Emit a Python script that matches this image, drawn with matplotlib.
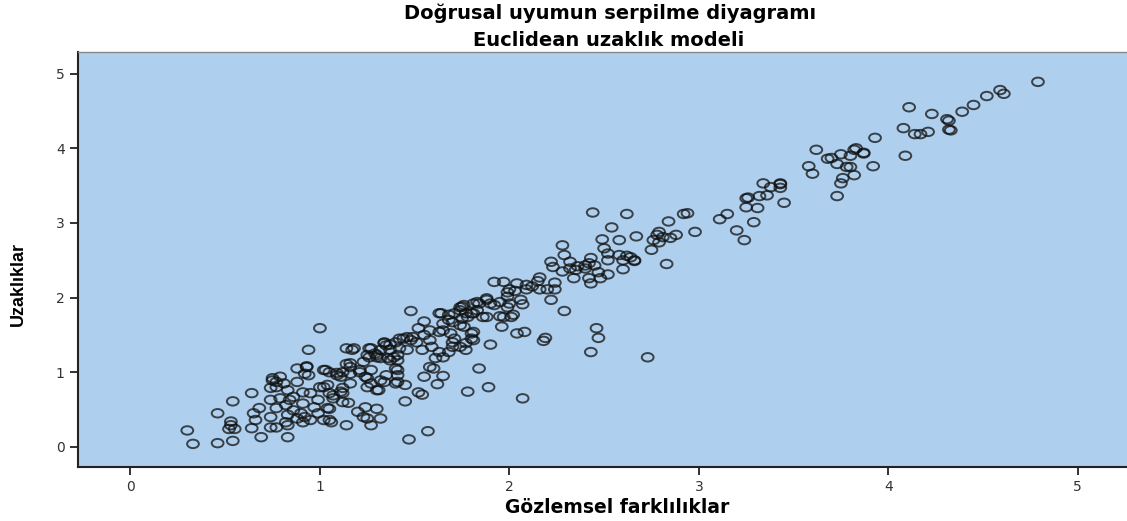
import matplotlib
matplotlib.use("Agg")
import matplotlib.pyplot as plt
import numpy as np
from matplotlib.path import Path

# Gözlemsel farklılıklar (x) ve Uzaklıklar (y)
points = [
    (4.79, 4.89), (4.59, 4.78), (4.61, 4.73), (4.52, 4.70), (4.45, 4.58), (4.39, 4.49),
    (4.31, 4.39), (4.32, 4.37), (4.32, 4.25), (4.33, 4.24), (4.23, 4.46), (4.11, 4.55),
    (4.08, 4.27), (4.14, 4.19), (4.17, 4.19), (4.21, 4.22), (4.09, 3.90), (3.93, 4.14),
    (3.83, 4.00), (3.82, 3.98), (3.87, 3.94), (3.80, 3.90), (3.92, 3.76), (3.80, 3.75),
    (3.82, 3.64), (3.62, 3.98), (3.58, 3.76), (3.60, 3.66), (3.68, 3.86), (3.70, 3.87),
    (3.75, 3.92), (3.87, 3.93), (3.73, 3.79), (3.78, 3.75), (3.76, 3.60), (3.75, 3.53),
    (3.73, 3.36), (3.34, 3.53), (3.38, 3.48), (3.43, 3.53), (3.43, 3.52), (3.43, 3.47),
    (3.36, 3.37), (3.32, 3.36), (3.25, 3.33), (3.26, 3.34), (3.25, 3.21), (3.31, 3.20),
    (3.45, 3.27), (3.29, 3.01), (3.11, 3.05), (3.15, 3.12), (3.20, 2.90), (3.24, 2.77),
    (2.92, 3.12), (2.94, 3.13), (2.84, 3.02), (2.98, 2.88), (2.67, 2.82), (2.79, 2.88),
    (2.78, 2.84), (2.81, 2.81), (2.88, 2.84), (2.76, 2.77), (2.79, 2.74), (2.85, 2.80),
    (2.75, 2.64), (2.83, 2.45), (2.66, 2.50), (2.64, 2.54), (2.44, 3.14), (2.62, 3.12),
    (2.54, 2.94), (2.49, 2.78), (2.58, 2.77), (2.50, 2.66), (2.52, 2.59), (2.58, 2.57),
    (2.62, 2.56), (2.52, 2.50), (2.60, 2.50), (2.66, 2.49), (2.60, 2.38), (2.43, 2.53),
    (2.42, 2.46), (2.45, 2.43), (2.40, 2.43), (2.47, 2.34), (2.42, 2.26), (2.43, 2.19),
    (2.48, 2.26), (2.52, 2.31), (2.28, 2.70), (2.29, 2.57), (2.22, 2.48), (2.23, 2.41),
    (2.32, 2.48), (2.32, 2.39), (2.36, 2.42), (2.28, 2.35), (2.35, 2.37), (2.34, 2.26),
    (2.40, 2.39), (2.16, 2.27), (2.15, 2.22), (2.24, 2.20), (2.16, 2.11), (2.20, 2.11),
    (2.24, 2.11), (2.12, 2.15), (2.09, 2.11), (1.92, 2.21), (1.97, 2.21), (2.04, 2.19),
    (2.00, 2.11), (1.99, 2.07), (2.03, 2.09), (2.22, 1.97), (2.29, 1.82), (2.06, 1.97),
    (2.00, 1.92), (1.95, 1.94), (1.88, 1.97), (1.83, 1.94), (1.76, 1.90), (1.92, 1.90),
    (1.99, 1.87), (2.07, 1.91), (1.74, 1.83), (1.80, 1.79), (1.86, 1.74), (1.95, 1.75),
    (2.01, 1.74), (1.96, 1.61), (2.04, 1.52), (2.08, 1.54), (1.80, 1.52), (1.76, 1.61),
    (2.19, 1.46), (2.46, 1.59), (2.47, 1.46), (2.18, 1.42), (2.43, 1.27), (2.73, 1.20),
    (1.90, 1.37), (1.84, 1.05), (1.89, 0.80), (1.78, 0.74), (2.07, 0.65), (1.57, 0.21),
    (1.47, 0.10), (1.45, 0.61), (1.52, 0.73), (1.54, 0.70), (1.62, 0.84), (1.65, 0.95),
    (1.55, 0.94), (1.58, 1.07), (1.60, 1.05), (1.77, 1.30), (1.80, 1.45), (1.81, 1.54),
    (1.65, 1.56), (1.70, 1.40), (1.68, 1.27), (1.65, 1.20), (1.61, 1.19), (1.74, 1.34),
    (1.77, 1.39), (1.48, 1.82), (1.55, 1.68), (1.52, 1.59), (1.63, 1.79), (1.68, 1.77),
    (1.75, 1.88), (1.81, 1.92), (1.77, 1.79), (1.81, 1.79), (1.65, 1.65), (1.70, 1.67),
    (1.74, 1.63), (1.81, 1.43), (1.70, 1.34), (1.63, 1.27), (1.59, 1.34), (1.54, 1.30),
    (1.58, 1.43), (1.55, 1.50), (1.49, 1.47), (1.46, 1.47), (1.44, 1.45), (1.48, 1.43),
    (1.51, 1.40), (1.40, 1.40), (1.34, 1.40), (1.35, 1.36), (1.32, 1.30), (1.37, 1.30),
    (1.42, 1.32), (1.46, 1.30), (1.27, 1.32), (1.29, 1.25), (1.26, 1.20), (1.30, 1.20),
    (1.36, 1.19), (1.41, 1.16), (1.17, 1.30), (1.18, 1.32), (1.16, 1.07), (1.21, 1.03),
    (1.27, 1.03), (1.03, 1.03), (1.05, 1.00), (0.93, 1.07), (0.92, 0.98), (1.11, 0.94),
    (1.24, 0.94), (1.27, 0.85), (1.32, 0.89), (1.35, 0.96), (1.41, 1.03), (1.45, 0.83),
    (1.31, 0.76), (1.41, 0.96), (1.12, 0.79), (1.00, 0.80), (1.04, 0.83), (1.40, 0.85),
    (1.25, 0.80), (1.16, 0.85), (1.12, 0.72), (1.07, 0.69), (1.15, 0.59), (1.05, 0.51),
    (1.20, 0.47), (1.24, 0.53), (1.30, 0.51), (1.23, 0.40), (1.25, 0.38), (1.32, 0.38),
    (1.27, 0.29), (1.14, 0.29), (1.06, 0.33), (0.94, 1.30), (0.30, 0.22), (0.33, 0.04),
    (0.46, 0.05), (0.54, 0.08), (0.46, 0.45), (0.54, 0.61), (0.64, 0.72), (0.53, 0.34),
    (0.53, 0.29), (0.52, 0.24), (0.55, 0.24), (0.65, 0.45), (0.66, 0.36), (0.64, 0.25),
    (0.69, 0.13), (0.68, 0.52), (0.75, 0.89), (0.77, 0.87), (0.74, 0.79), (0.83, 0.13),
    (0.83, 0.29), (0.74, 0.40), (0.77, 0.26), (0.88, 1.05), (0.93, 1.08), (0.94, 0.96),
    (1.02, 1.03), (1.09, 0.99), (1.14, 1.11), (1.14, 1.32), (0.95, 0.72), (1.02, 0.80),
    (1.04, 0.52), (1.02, 0.36), (1.05, 0.36), (1.12, 0.60), (1.11, 0.74), (0.88, 0.87),
    (0.83, 0.76), (0.86, 0.67), (0.79, 0.65), (0.74, 0.63), (0.77, 0.52), (0.82, 0.56),
    (0.86, 0.49), (0.90, 0.45), (0.83, 0.43), (0.88, 0.38), (0.92, 0.40), (0.95, 0.36),
    (0.91, 0.33), (0.82, 0.33), (0.74, 0.26), (0.99, 0.45), (0.97, 0.53), (0.91, 0.58),
    (0.99, 0.63), (1.05, 0.72), (1.07, 0.65), (0.77, 0.80), (0.81, 0.85), (0.84, 0.63),
    (0.91, 0.73), (0.75, 0.92), (0.79, 0.94), (1.00, 1.59), (1.26, 1.32), (1.34, 1.39),
    (1.37, 1.37), (1.30, 1.23), (1.25, 1.23), (1.32, 1.19), (1.23, 1.14), (1.16, 1.12),
    (1.12, 1.00), (1.09, 0.96), (1.16, 0.98), (1.21, 1.00), (1.25, 0.92), (1.30, 0.76),
    (1.34, 0.87), (1.40, 1.05), (1.41, 0.87), (1.37, 1.16), (1.41, 1.23), (2.09, 2.17),
    (1.99, 2.01), (1.90, 1.92), (1.84, 1.92), (1.88, 1.99), (1.83, 1.83), (1.88, 1.74),
    (1.97, 1.74), (2.02, 1.77), (1.74, 1.87), (1.71, 1.79), (1.64, 1.79), (1.68, 1.70),
    (1.75, 1.72), (1.78, 1.74), (1.58, 1.56), (1.63, 1.54), (1.69, 1.52), (1.71, 1.45),
    (1.42, 1.45), (1.39, 1.20),
]
gozlemsel = [p[0] for p in points]
uzakliklar = [p[1] for p in points]

ticks = [0, 1, 2, 3, 4, 5]

fig = plt.figure(figsize=(11.27, 5.21), dpi=100)
ax = fig.add_axes([0.0692, 0.1036, 0.9308, 0.7966])
ax.set_facecolor('#AECFEE')

# markers are a bit wider than tall in the original
circ = Path.unit_circle()
ellipse = Path(circ.vertices * np.array([1.0, 0.72]), circ.codes)

ax.scatter(gozlemsel, uzakliklar, s=72, marker=ellipse, facecolors='none',
           edgecolors='#111111', linewidths=1.4, alpha=0.75, zorder=3)

ax.set_xlim(-0.277, 5.26)
ax.set_ylim(-0.27, 5.29)
ax.set_xticks(ticks)
ax.set_yticks(ticks)
ax.tick_params(axis='both', direction='out', length=6, width=1.3,
               colors='#222222', labelsize=10, labelcolor='#333333')

for side in ['left', 'bottom']:
    ax.spines[side].set_color('#222222')
    ax.spines[side].set_linewidth(1.5)
ax.spines['top'].set_color('#888888')
ax.spines['top'].set_linewidth(1.0)
ax.spines['right'].set_visible(False)

fig.text(0.541, 0.975, 'Doğrusal uyumun serpilme diyagramı', ha='center', va='center',
         fontsize=14, fontweight='bold', family='DejaVu Sans')
fig.text(0.540, 0.923, 'Euclidean uzaklık modeli', ha='center', va='center',
         fontsize=14, fontweight='bold', family='DejaVu Sans')
fig.text(0.548, 0.025, 'Gözlemsel farklılıklar', ha='center', va='center',
         fontsize=13.5, fontweight='bold', family='DejaVu Sans')
fig.text(0.016, 0.455, 'Uzaklıklar', ha='center', va='center', rotation=90,
         fontsize=13, fontweight='bold', family='Liberation Sans')

fig.savefig('out.png', dpi=100, facecolor='white')
